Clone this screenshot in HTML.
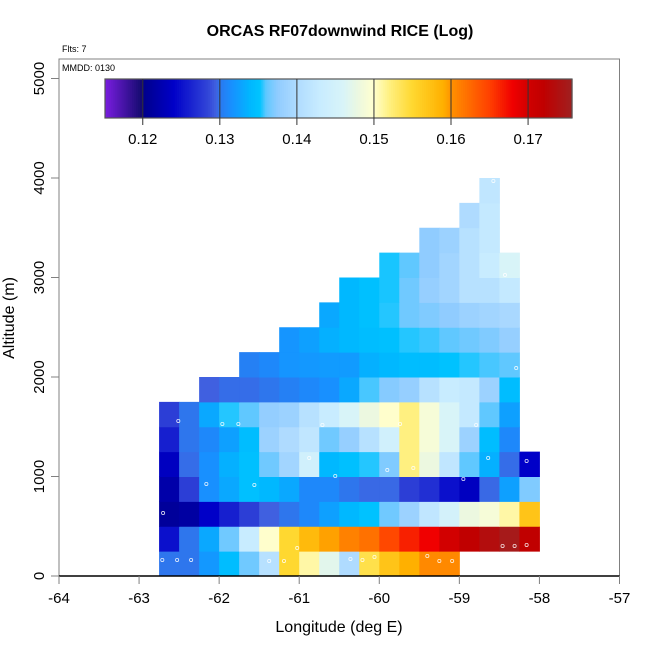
<!DOCTYPE html>
<html><head><meta charset="utf-8">
<style>
body{margin:0;background:#fff;}
svg text{font-family:"Liberation Sans",Arial,sans-serif;}
</style></head>
<body>
<svg id="chart" width="650" height="650" viewBox="0 0 650 650" xmlns="http://www.w3.org/2000/svg">
<text x="340" y="36" text-anchor="middle" font-size="16" font-weight="bold">ORCAS RF07downwind RICE (Log)</text>
<text x="62" y="52" font-size="9">Flts: 7</text>
<g id="cells"></g>
<g id="dots"></g>
<rect x="59" y="59" width="560.5" height="517" fill="none" stroke="#808080" stroke-width="1"/>
<line x1="59" y1="576" x2="619.5" y2="576" stroke="#000" stroke-width="1.5"/>
<text x="62" y="71" font-size="9">MMDD: 0130</text>
<g id="xaxis"></g>
<g id="yaxis"></g>
<g id="cbar"></g>
<text x="339" y="632" text-anchor="middle" font-size="16">Longitude (deg E)</text>
<text transform="translate(14,318) rotate(-90)" text-anchor="middle" font-size="16">Altitude (m)</text>
</svg>
<script>
const lonStart = -62.75, lonStep = 0.25;
const altStep = 250;
const rowStartCol = [0,0,0,0,0,0,0,2,4,6,8,9,11,13,15,16];
const rowValues = [
 [0.130,0.130,0.132,0.1345,0.1365,0.141,0.155,0.151,0.147,0.140,0.154,0.157,0.159,0.1605,0.1605],
 [0.125,0.130,0.133,0.1365,0.143,0.150,0.155,0.158,0.1595,0.161,0.162,0.1645,0.1665,0.168,0.170,0.172,0.1735,0.175,0.172],
 [0.121,0.1215,0.124,0.126,0.128,0.1295,0.130,0.131,0.1325,0.134,0.135,0.1365,0.1385,0.142,0.145,0.148,0.149,0.151,0.157],
 [0.122,0.128,0.1315,0.133,0.1348,0.134,0.133,0.131,0.131,0.130,0.1297,0.1297,0.128,0.127,0.125,0.1235,0.1297,0.1325,0.137],
 [0.1235,0.1298,0.1315,0.1335,0.1348,0.1365,0.139,0.1445,0.134,0.1348,0.1355,0.137,0.152,0.148,0.142,0.136,0.1335,0.1298,0.124],
 [0.126,0.130,0.131,0.1325,0.1345,0.1385,0.140,0.142,0.1365,0.138,0.141,0.1445,0.152,0.149,0.146,0.1385,0.1345,0.131],
 [0.128,0.130,0.133,0.1355,0.136,0.1378,0.1385,0.141,0.143,0.146,0.148,0.150,0.152,0.149,0.146,0.1425,0.136,0.1325],
 [0.1295,0.1298,0.1298,0.130,0.1305,0.131,0.1315,0.133,0.1358,0.1372,0.138,0.141,0.143,0.1425,0.1385,0.1345],
 [0.1305,0.131,0.1318,0.132,0.1322,0.1322,0.1335,0.134,0.1345,0.1345,0.135,0.1355,0.1358,0.136],
 [0.1318,0.1325,0.1335,0.134,0.1345,0.1348,0.1355,0.1357,0.136,0.1365,0.137,0.138],
 [0.133,0.134,0.1348,0.1355,0.1365,0.137,0.1375,0.1385,0.139,0.1395],
 [0.134,0.1348,0.1354,0.1365,0.138,0.139,0.141,0.141,0.1425],
 [0.1354,0.136,0.1375,0.139,0.141,0.143,0.146],
 [0.1375,0.1385,0.141,0.1425],
 [0.140,0.1425],
 [0.142]
];
const pointLon = [-62.51,-61.96,-61.76,-60.71,-59.74,-58.79,-60.875,-59.9,-59.575,-58.64,-58.16,-60.55,-62.16,-61.56,-58.95,-62.7,-61.025,-58.46,-58.31,-58.16,-62.71,-62.525,-62.35,-61.375,-61.19,-60.36,-60.21,-60.06,-59.4,-59.25,-59.09,-58.575,-58.43,-58.29];
const pointAlt = [1558,1528,1528,1518,1528,1518,1186,1065,1085,1186,1156,1005,925,915,975,633,281,302,302,312,161,161,161,151,151,171,161,191,201,151,151,3970,3025,2090];
const xTicks = [-64,-63,-62,-61,-60,-59,-58,-57];
const yTicks = [0,1000,2000,3000,4000,5000];
const cbarTicks = [0.12,0.13,0.14,0.15,0.16,0.17];
const cbarMin = 0.1151, cbarMax = 0.1757;

const NS='http://www.w3.org/2000/svg';
function xs(lon){return 59 + (lon+64)*80.07;}
function ys(alt){return 576 - alt*0.0995;}
function cx(v){return 105 + (v-cbarMin)/(cbarMax-cbarMin)*467;}
const stops=[[0.1151,[122,30,224]],[0.1199,[20,10,110]],[0.1201,[0,0,140]],[0.124,[0,0,200]],[0.1285,[50,70,216]],[0.1295,[64,96,224]],[0.1301,[42,122,240]],[0.1315,[24,144,255]],[0.134,[0,184,255]],[0.1352,[0,196,255]],[0.136,[96,200,255]],[0.1375,[144,204,255]],[0.1401,[176,220,255]],[0.143,[200,236,255]],[0.146,[216,244,248]],[0.148,[236,248,224]],[0.1499,[255,255,208]],[0.152,[255,240,128]],[0.155,[255,216,48]],[0.159,[255,176,0]],[0.1601,[255,144,0]],[0.165,[255,64,0]],[0.168,[240,0,0]],[0.1701,[208,0,0]],[0.172,[192,0,0]],[0.1757,[160,32,32]]];
function color(v){
  if(v<=stops[0][0])return 'rgb('+stops[0][1]+')';
  for(let i=1;i<stops.length;i++){
    if(v<=stops[i][0]){
      const a=stops[i-1],b=stops[i],t=(v-a[0])/(b[0]-a[0]);
      const c=a[1].map((x,k)=>Math.round(x+(b[1][k]-x)*t));
      return 'rgb('+c.join(',')+')';
    }
  }
  return 'rgb('+stops[stops.length-1][1]+')';
}
function mk(tag,attrs,parent){const e=document.createElementNS(NS,tag);for(const k in attrs)e.setAttribute(k,attrs[k]);parent.appendChild(e);return e;}

const cells=document.getElementById('cells');
rowValues.forEach((row,r)=>{
  row.forEach((v,j)=>{
    const c=rowStartCol[r]+j;
    const lon0=lonStart+c*lonStep, lon1=lon0+lonStep;
    const a0=r*altStep, a1=a0+altStep;
    const x0=xs(lon0),x1=xs(lon1),y0=ys(a1),y1=ys(a0);
    const el=mk('rect',{x:x0,y:y0,width:x1-x0+0.5,height:y1-y0+0.5,fill:color(v)},cells);
    
    
  });
});

const dots=document.getElementById('dots');
pointLon.forEach((lon,i)=>{
  const d=mk('circle',{cx:xs(lon),cy:ys(pointAlt[i]),r:1.6,fill:'none',stroke:'#ffffff','stroke-width':0.8,opacity:0.85},dots);
  
  
});

const xa=document.getElementById('xaxis');
xTicks.forEach(t=>{
  const x=xs(t);
  const l=mk('line',{x1:x,y1:576,x2:x,y2:584,stroke:'#808080','stroke-width':1},xa);
  
  
  const tx=mk('text',{x:x,y:603,'text-anchor':'middle','font-size':'15'},xa);
  tx.textContent=t;
  
  
});
const ya=document.getElementById('yaxis');
yTicks.forEach(t=>{
  const y=ys(t);
  const l=mk('line',{x1:51,y1:y,x2:59,y2:y,stroke:'#808080','stroke-width':1},ya);
  
  
  const tx=mk('text',{transform:'translate(44,'+y+') rotate(-90)','text-anchor':'middle','font-size':'15'},ya);
  tx.textContent=t;
  
  
});

const cb=document.getElementById('cbar');
const N=240;
for(let i=0;i<N;i++){
  const v=cbarMin+(cbarMax-cbarMin)*(i+0.5)/N;
  const x=105+467*i/N;
  const r=mk('rect',{x:x,y:79,width:467/N+0.6,height:39,fill:color(v)},cb);
  
  
}
const fr=mk('rect',{x:105,y:79,width:467,height:39,fill:'none',stroke:'#555','stroke-width':1.2},cb);


cbarTicks.forEach(t=>{
  const x=cx(t);
  const l=mk('line',{x1:x,y1:79,x2:x,y2:125,stroke:'#333','stroke-width':1},cb);
  
  
  const tx=mk('text',{x:x,y:144,'text-anchor':'middle','font-size':'15'},cb);
  tx.textContent=t.toFixed(2);
  
  
});
</script>
</body></html>
